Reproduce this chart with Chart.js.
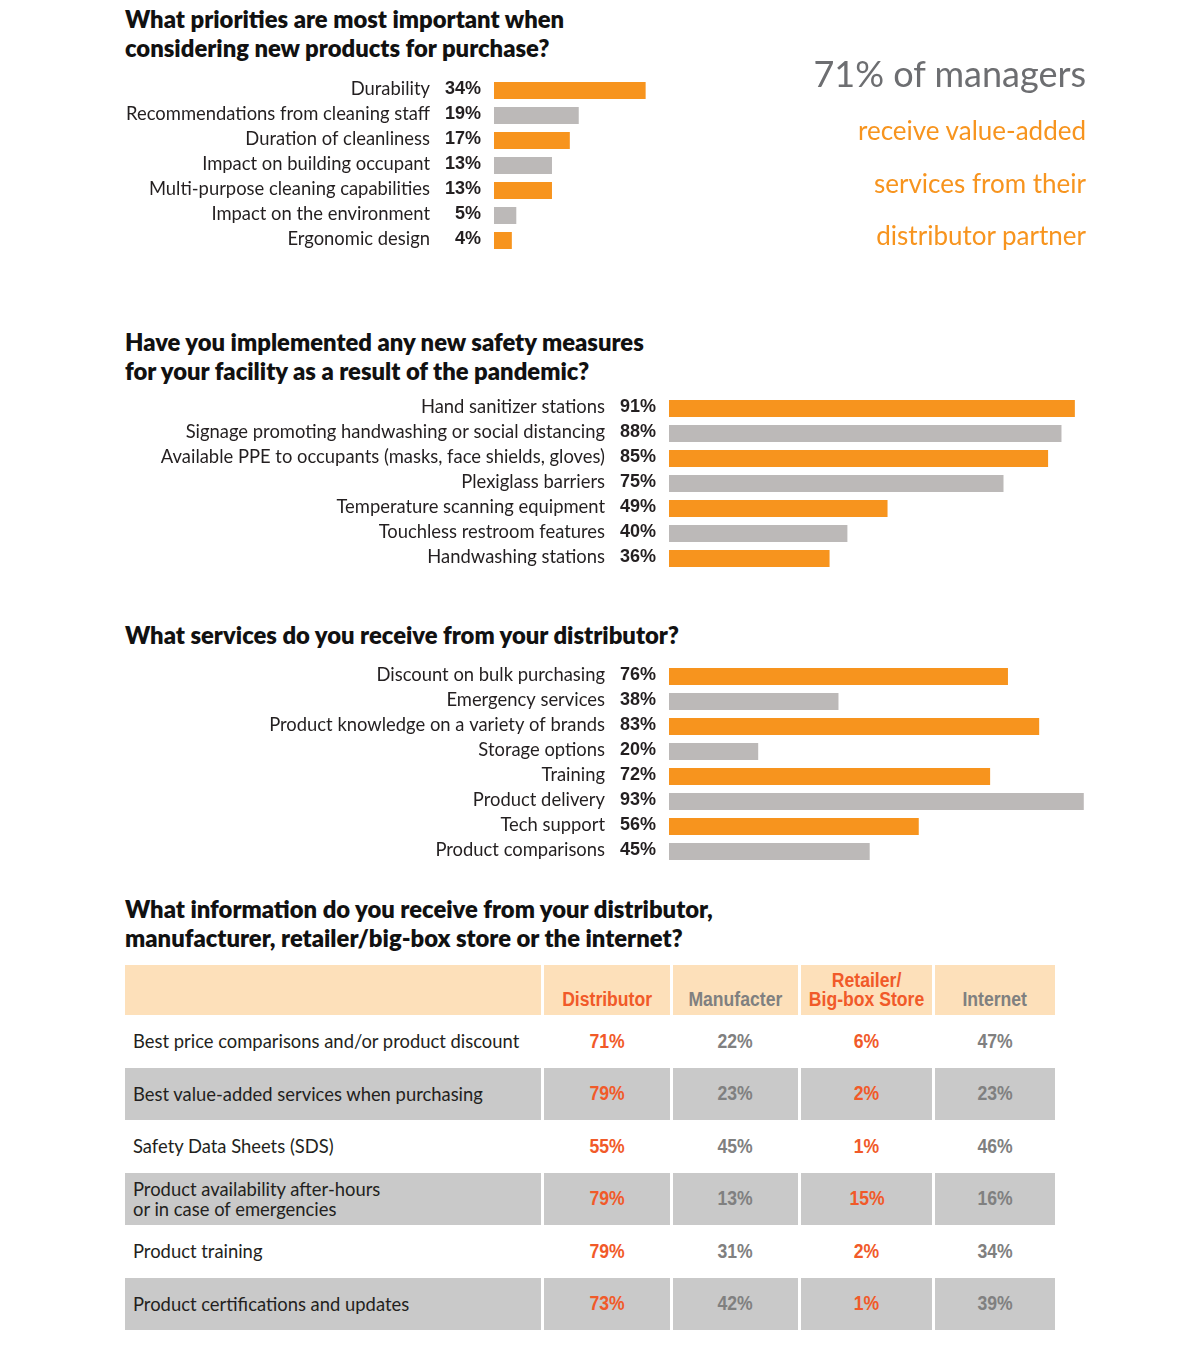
<!DOCTYPE html>
<html>
<head>
<meta charset="utf-8">
<script src="https://cdn.jsdelivr.net/npm/chart.js@4.4.1/dist/chart.umd.min.js"></script>
<style>
  body { margin: 0; width: 1181px; height: 1369px; background: #fff; position: relative; font-family: Lato, sans-serif; }
  .title { position: absolute; left: 125px; font: 800 23.8px/29px Lato, sans-serif; color: #111; white-space: nowrap; }
  canvas { position: absolute; left: 0; }
  .callout { position: absolute; right: 95px; text-align: right; font-family: Lato, sans-serif; font-weight: 400; line-height: 1; white-space: nowrap; }
  .callout.big { font-size: 36px; color: #6d6e71; }
  .callout.org { font-size: 26px; color: #f7941e; }
  table { position: absolute; left: 122px; top: 965px; border-collapse: separate; border-spacing: 3px 0; table-layout: fixed; }
  th { background: #fde0ba; height: 44px; vertical-align: bottom; padding: 0 0 6px 0; font: bold 20px/19px "Liberation Sans", Arial, sans-serif; white-space: pre; }
  td { height: 52.5px; padding: 0; vertical-align: middle; }
  td.lab { padding-left: 8px; font: 400 18.4px/20px Lato, sans-serif; color: #231f20; white-space: pre; }
  td.val { text-align: center; font: bold 20px "Liberation Sans", Arial, sans-serif; }
  .sq { display: inline-block; transform: scaleX(0.88); transform-origin: center; }
  tr.shade td { background: #c9c9c9; }
  .red { color: #f15a29; }
  .gry { color: #808080; }
</style>
</head>
<body>

<div class="title" style="top:5px">What priorities are most important when<br>considering new products for purchase?</div>
<canvas id="priorities" width="1181" height="175" style="top:78px"></canvas>

<div class="callout big" style="top:55px">71% of managers</div>
<div class="callout org" style="top:117px">receive value-added</div>
<div class="callout org" style="top:170px">services from their</div>
<div class="callout org" style="top:222px">distributor partner</div>

<div class="title" style="top:328px">Have you implemented any new safety measures<br>for your facility as a result of the pandemic?</div>
<canvas id="safety" width="1181" height="175" style="top:396px"></canvas>

<div class="title" style="top:621px">What services do you receive from your distributor?</div>
<canvas id="services" width="1181" height="200" style="top:664px"></canvas>

<div class="title" style="top:895px">What information do you receive from your distributor,<br>manufacturer, retailer/big-box store or the internet?</div>
<table id="info">
  <colgroup><col style="width:416px"><col style="width:126px"><col style="width:125px"><col style="width:131px"><col style="width:120px"></colgroup>
</table>

<script>
// ---- data ----
var priorityLabels = ["Durability", "Recommendations from cleaning staff", "Duration of cleanliness",
  "Impact on building occupant", "Multi-purpose cleaning capabilities", "Impact on the environment", "Ergonomic design"];
var priorityValues = [34, 19, 17, 13, 13, 5, 4];

var safetyLabels = ["Hand sanitizer stations", "Signage promoting handwashing or social distancing",
  "Available PPE to occupants (masks, face shields, gloves)", "Plexiglass barriers",
  "Temperature scanning equipment", "Touchless restroom features", "Handwashing stations"];
var safetyValues = [91, 88, 85, 75, 49, 40, 36];

var serviceLabels = ["Discount on bulk purchasing", "Emergency services", "Product knowledge on a variety of brands",
  "Storage options", "Training", "Product delivery", "Tech support", "Product comparisons"];
var serviceValues = [76, 38, 83, 20, 72, 93, 56, 45];

var sourceNames = ["Distributor", "Manufacter", "Retailer/\nBig-box Store", "Internet"];
var infoLabels = ["Best price comparisons and/or product discount", "Best value-added services when purchasing",
  "Safety Data Sheets (SDS)", "Product availability after-hours\nor in case of emergencies",
  "Product training", "Product certifications and updates"];
var distributorValues = [71, 79, 55, 79, 79, 73];
var manufacturerValues = [22, 23, 45, 13, 31, 42];
var retailerValues = [6, 2, 1, 15, 2, 1];
var internetValues = [47, 23, 46, 16, 34, 39];

var ORANGE = '#f7941e';
var GREY = '#bcb9b8';

// labels + bold percentages to the left of each bar
var sideText = {
  id: 'sideText',
  afterDatasetsDraw: function (chart) {
    var ctx = chart.ctx;
    var left = chart.chartArea.left;
    var meta = chart.getDatasetMeta(0);
    ctx.save();
    ctx.textAlign = 'right';
    ctx.textBaseline = 'middle';
    ctx.fillStyle = '#231f20';
    meta.data.forEach(function (bar, i) {
      ctx.font = '400 18.4px Lato';
      ctx.fillText(chart.data.labels[i], left - 64, bar.y - 1);
      ctx.font = 'bold 18px "Liberation Sans"';
      ctx.fillText(chart.data.datasets[0].data[i] + '%', left - 13, bar.y - 1);
    });
    ctx.restore();
  }
};

function barChart(id, labels, values, left) {
  return new Chart(document.getElementById(id), {
    type: 'bar',
    data: {
      labels: labels,
      datasets: [{
        data: values,
        backgroundColor: values.map(function (v, i) { return i % 2 ? GREY : ORANGE; }),
        borderWidth: 0,
        categoryPercentage: 1,
        barPercentage: 0.68
      }]
    },
    options: {
      indexAxis: 'y',
      responsive: false,
      animation: false,
      layout: { padding: { left: left, right: 1181 - left - 446, top: 0, bottom: 0 } },
      plugins: { legend: { display: false }, tooltip: { enabled: false } },
      scales: {
        x: { display: false, min: 0, max: 100 },
        y: { display: false }
      }
    },
    plugins: [sideText]
  });
}

barChart('priorities', priorityLabels, priorityValues, 494);
barChart('safety', safetyLabels, safetyValues, 669);
barChart('services', serviceLabels, serviceValues, 669);

// table
var table = document.getElementById('info');
var head = '<tr><th></th>' + sourceNames.map(function (n, i) {
  return '<th class="' + (i % 2 ? 'gry' : 'red') + '"><span class="sq">' + n + '</span></th>';
}).join('') + '</tr>';
var body = infoLabels.map(function (lab, r) {
  var vals = [distributorValues[r], manufacturerValues[r], retailerValues[r], internetValues[r]];
  return '<tr' + (r % 2 ? ' class="shade"' : '') + '><td class="lab">' + lab + '</td>' +
    vals.map(function (v, i) {
      return '<td class="val ' + (i % 2 ? 'gry' : 'red') + '"><span class="sq">' + v + '%</span></td>';
    }).join('') + '</tr>';
}).join('');
table.insertAdjacentHTML('beforeend', head + body);
</script>
</body>
</html>
